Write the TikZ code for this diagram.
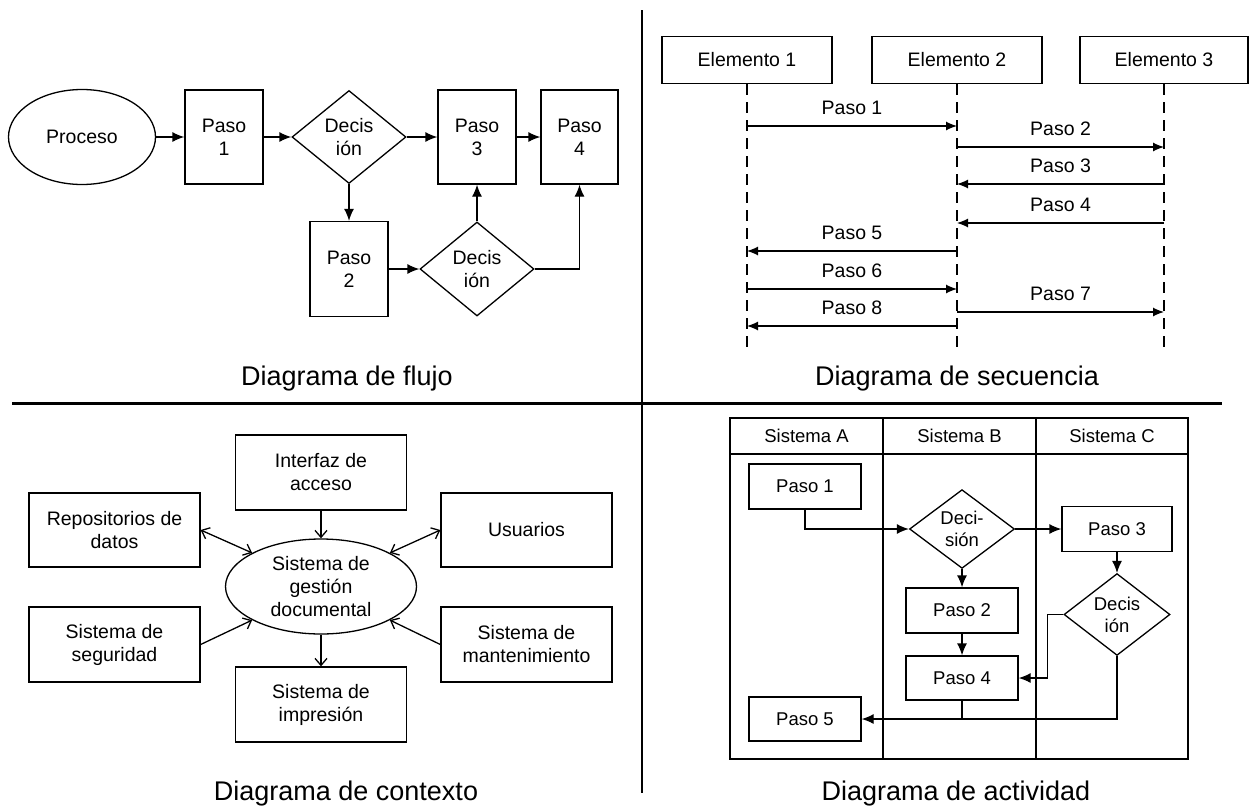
\documentclass[tikz,border=0pt]{standalone}
\usepackage{fontspec}
\setmainfont{Liberation Sans}
\usetikzlibrary{arrows.meta,shapes.geometric}
\begin{document}
\begin{tikzpicture}[x=1pt,y=-1pt,
  every node/.style={font=\fontsize{19.5}{23}\selectfont, align=center, inner sep=0pt},
  box/.style={draw, line width=1.3pt, rectangle},
  ell/.style={draw, line width=1.3pt, ellipse},
  dia/.style={draw, line width=1.3pt, diamond},
  captxt/.style={font=\fontsize{27}{30}\selectfont, anchor=base},
  fa/.style={-{Latex[length=12pt,width=10pt]}, line width=1.3pt},
  sa/.style={-{Latex[length=11pt,width=9pt]}, line width=1.2pt},
  ca/.style={-{Straight Barb[length=7pt,width=12pt]}, line width=1.3pt},
  cab/.style={{Straight Barb[length=7pt,width=12pt]}-{Straight Barb[length=7pt,width=12pt]}, line width=1.3pt},
  life/.style={line width=1.2pt, dash pattern=on 11pt off 7pt},
  afont/.style={font=\fontsize{18.5}{22}\selectfont}
]
\useasboundingbox (0,0) rectangle (1250,806);

% dividers
\coordinate (vt) at (642,10);
\coordinate (vb) at (642,793);
\coordinate (hl) at (12,403);
\coordinate (hr) at (1222,403);
\draw[line width=2pt] (vt) -- (vb);
\draw[line width=3pt] (hl) -- (hr);

% ---------- Diagrama de flujo ----------
\node[ell, minimum width=147pt, minimum height=95pt] (proc) at (82,137) {Proceso};
\node[box, minimum width=78pt, minimum height=94pt] (p1) at (224,137) {Paso\\1};
\node[dia, minimum width=114pt, minimum height=93pt] (d1) at (349,137) {Decis\\ión};
\node[box, minimum width=78pt, minimum height=94pt] (p3) at (477,137) {Paso\\3};
\node[box, minimum width=77pt, minimum height=94pt] (p4) at (579.5,137) {Paso\\4};
\node[box, minimum width=78pt, minimum height=95pt] (p2) at (349,269) {Paso\\2};
\node[dia, minimum width=114pt, minimum height=94pt] (d2) at (477,269) {Decis\\ión};
\draw[fa] (proc) -- (p1);
\draw[fa] (p1) -- (d1);
\draw[fa] (d1) -- (p3);
\draw[fa] (p3) -- (p4);
\draw[fa] (d1) -- (p2);
\draw[fa] (p2) -- (d2);
\draw[fa] (d2) -- (p3);
\draw[fa] (d2.east) -| (p4.south);
\node[captxt] (c1) at (347,385) {Diagrama de flujo};

% ---------- Diagrama de secuencia ----------
\node[box, minimum width=170pt, minimum height=47pt] (e1) at (747,60) {Elemento 1};
\node[box, minimum width=170pt, minimum height=47pt] (e2) at (957,60) {Elemento 2};
\node[box, minimum width=168pt, minimum height=47pt] (e3) at (1164,60) {Elemento 3};
\coordinate (l1) at (747,352);
\coordinate (l2) at (957,352);
\coordinate (l3) at (1164,352);
\draw[life] (e1.south) -- (l1);
\draw[life] (e2.south) -- (l2);
\draw[life] (e3.south) -- (l3);
\coordinate (m1) at (0,126);
\coordinate (m2) at (0,147);
\coordinate (m3) at (0,184);
\coordinate (m4) at (0,223);
\coordinate (m5) at (0,251);
\coordinate (m6) at (0,289);
\coordinate (m7) at (0,312);
\coordinate (m8) at (0,326);
\draw[sa] (e1 |- m1) -- node[midway, yshift=18pt] {Paso 1} (e2 |- m1);
\draw[sa] (e2 |- m2) -- node[midway, yshift=18pt] {Paso 2} (e3 |- m2);
\draw[sa] (e3 |- m3) -- node[midway, yshift=18pt] {Paso 3} (e2 |- m3);
\draw[sa] (e3 |- m4) -- node[midway, yshift=18pt] {Paso 4} (e2 |- m4);
\draw[sa] (e2 |- m5) -- node[midway, yshift=18pt] {Paso 5} (e1 |- m5);
\draw[sa] (e1 |- m6) -- node[midway, yshift=18pt] {Paso 6} (e2 |- m6);
\draw[sa] (e2 |- m7) -- node[midway, yshift=18pt] {Paso 7} (e3 |- m7);
\draw[sa] (e2 |- m8) -- node[midway, yshift=18pt] {Paso 8} (e1 |- m8);
\node[captxt] (c2) at (957,385) {Diagrama de secuencia};

% ---------- Diagrama de contexto ----------
\node[box, minimum width=171pt, minimum height=74pt] (repo) at (114.5,530) {Repositorios de\\datos};
\node[box, minimum width=171pt, minimum height=75pt] (seg) at (114.5,644.5) {Sistema de\\seguridad};
\node[ell, minimum width=191pt, minimum height=95pt] (sgd) at (321,586.5) {Sistema de\\gestión\\documental};
\node[box, minimum width=171pt, minimum height=75pt] (intf) at (321,472.5) {Interfaz de\\acceso};
\node[box, minimum width=171pt, minimum height=75pt] (imp) at (321,704.5) {Sistema de\\impresión};
\node[box, minimum width=171pt, minimum height=74pt] (usr) at (526.5,530) {Usuarios};
\node[box, minimum width=171pt, minimum height=75pt] (mant) at (526.5,644.5) {Sistema de\\mantenimiento};
\draw[ca] (intf) -- (sgd);
\draw[ca] (sgd) -- (imp);
\draw[cab] (repo.east) -- (sgd.154);
\draw[ca] (seg.east) -- (sgd.206);
\draw[cab] (usr.west) -- (sgd.26);
\draw[ca] (mant.west) -- (sgd.334);
\node[captxt] (c3) at (346,800) {Diagrama de contexto};

% ---------- Diagrama de actividad ----------
\node[box, afont, minimum width=153pt, minimum height=36pt] (hA) at (806.5,436) {Sistema A};
\node[box, afont, minimum width=153pt, minimum height=36pt] (hB) at (959.5,436) {Sistema B};
\node[box, afont, minimum width=152pt, minimum height=36pt] (hC) at (1112,436) {Sistema C};
\node[box, minimum width=153pt, minimum height=305pt] (lA) at (806.5,606.5) {};
\node[box, minimum width=153pt, minimum height=305pt] (lB) at (959.5,606.5) {};
\node[box, minimum width=152pt, minimum height=305pt] (lC) at (1112,606.5) {};

\node[box, afont, minimum width=112pt, minimum height=45pt] (ap1) at (805,486.5) {Paso 1};
\node[dia, afont, minimum width=105pt, minimum height=74pt] (ad1) at (962,529) {Deci-\\sión};
\node[box, afont, minimum width=110pt, minimum height=45pt] (ap3) at (1117,529) {Paso 3};
\node[box, afont, minimum width=112pt, minimum height=45pt] (ap2) at (962,610.5) {Paso 2};
\node[box, afont, minimum width=112pt, minimum height=44pt] (ap4) at (962,678) {Paso 4};
\node[dia, afont, minimum width=106pt, minimum height=73pt] (ad2) at (1117,614.5) {Decis\\ión};
\node[box, afont, minimum width=112pt, minimum height=44pt] (ap5) at (805,719) {Paso 5};
\draw[fa] (ap1.south) |- (ad1.west);
\draw[fa] (ad1) -- (ap3);
\draw[fa] (ad1) -- (ap2);
\draw[fa] (ap2) -- (ap4);
\draw[fa] (ap3) -- (ad2);
\draw[fa] (ad2.west) -- ++(-16,0) |- (ap4.east);
\draw[fa] (ad2.south) |- (ap5.east);
\draw[line width=1.3pt] (ap4.south) -- (ap4.south |- ap5.east);
\node[captxt] (c4) at (956,800) {Diagrama de actividad};
\end{tikzpicture}
\end{document}
